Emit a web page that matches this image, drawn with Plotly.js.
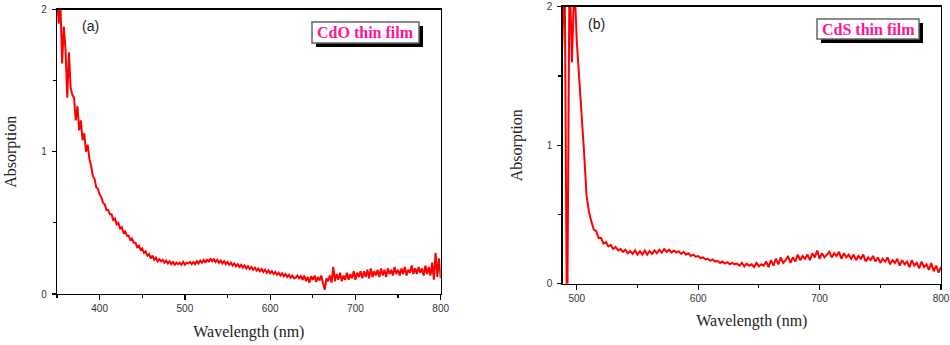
<!DOCTYPE html>
<html>
<head>
<meta charset="utf-8">
<script src="https://cdn.plot.ly/plotly-3.0.1.min.js"></script>
<style>
  html, body { margin: 0; padding: 0; background: #fff; }
  #chart { width: 950px; height: 345px; }
</style>
</head>
<body>
<div id="chart"></div>
<script>
// ---- Data ----
// Panel (a): CdO thin film, sampled every 2 nm from 350 to 800 nm
const wlStartA = 350;
const wlStepA = 2;
const absCdO = [
  2.10, 1.90, 2.05, 1.62, 1.88, 1.72, 1.38, 1.70, 1.45, 1.40,
  1.38, 1.22, 1.32, 1.15, 1.22, 1.08, 1.13, 1.00, 1.05, 0.95,
  0.90, 0.83, 0.81, 0.75, 0.74, 0.70, 0.68, 0.64, 0.63, 0.59,
  0.59, 0.56, 0.56, 0.52, 0.53, 0.49, 0.50, 0.46, 0.47, 0.43,
  0.44, 0.41, 0.41, 0.38, 0.39, 0.36, 0.36, 0.33, 0.34, 0.31,
  0.32, 0.29, 0.30, 0.27, 0.28, 0.25, 0.27, 0.24, 0.255, 0.23,
  0.245, 0.23, 0.24, 0.22, 0.235, 0.215, 0.23, 0.21, 0.225, 0.205,
  0.22, 0.21, 0.22, 0.205, 0.225, 0.205, 0.22, 0.215, 0.225, 0.21,
  0.225, 0.21, 0.23, 0.215, 0.235, 0.22, 0.24, 0.22, 0.245, 0.225,
  0.25, 0.23, 0.245, 0.225, 0.24, 0.22, 0.235, 0.215, 0.23, 0.21,
  0.225, 0.205, 0.22, 0.20, 0.215, 0.195, 0.21, 0.19, 0.205, 0.185,
  0.20, 0.18, 0.195, 0.175, 0.19, 0.17, 0.185, 0.165, 0.18, 0.16,
  0.175, 0.155, 0.17, 0.15, 0.165, 0.145, 0.16, 0.14, 0.155, 0.135,
  0.15, 0.13, 0.145, 0.125, 0.14, 0.12, 0.135, 0.115, 0.13, 0.11,
  0.115, 0.13, 0.11, 0.125, 0.10, 0.13, 0.09, 0.12, 0.08, 0.125,
  0.10, 0.13, 0.085, 0.12, 0.095, 0.13, 0.075, 0.03, 0.11, 0.09,
  0.13, 0.08, 0.19, 0.09, 0.14, 0.10, 0.15, 0.09, 0.13, 0.10,
  0.15, 0.10, 0.14, 0.11, 0.16, 0.10, 0.15, 0.12, 0.16, 0.11,
  0.16, 0.12, 0.17, 0.11, 0.18, 0.12, 0.16, 0.13, 0.17, 0.12,
  0.18, 0.13, 0.17, 0.12, 0.18, 0.14, 0.17, 0.13, 0.19, 0.14,
  0.17, 0.13, 0.18, 0.14, 0.19, 0.13, 0.17, 0.15, 0.20, 0.14,
  0.18, 0.14, 0.19, 0.15, 0.18, 0.13, 0.20, 0.14, 0.19, 0.13,
  0.22, 0.10, 0.29, 0.12, 0.25, 0.11
];

// Panel (b): CdS thin film, sampled every 2 nm from 488 to 800 nm
const wlStartB = 488;
const wlStepB = 2;
const absCdS = [
  1.70, 2.30, -0.50, 2.30, 1.60, 2.20, 1.75, 1.50, 1.20, 0.95,
  0.64, 0.52, 0.45, 0.39, 0.38, 0.33, 0.33, 0.29, 0.30, 0.27,
  0.28, 0.25, 0.265, 0.24, 0.25, 0.23, 0.245, 0.22, 0.235, 0.215,
  0.24, 0.21, 0.235, 0.21, 0.24, 0.21, 0.235, 0.215, 0.24, 0.22,
  0.245, 0.225, 0.25, 0.23, 0.245, 0.225, 0.24, 0.225, 0.235, 0.215,
  0.23, 0.21, 0.22, 0.20, 0.21, 0.195, 0.20, 0.185, 0.19, 0.175,
  0.18, 0.165, 0.175, 0.16, 0.165, 0.15, 0.16, 0.145, 0.155, 0.14,
  0.15, 0.14, 0.145, 0.13, 0.15, 0.125, 0.145, 0.13, 0.14, 0.12,
  0.15, 0.125, 0.14, 0.13, 0.16, 0.12, 0.17, 0.13, 0.18, 0.14,
  0.19, 0.15, 0.17, 0.20, 0.15, 0.19, 0.16, 0.21, 0.17, 0.20,
  0.18, 0.21, 0.17, 0.22, 0.19, 0.24, 0.18, 0.22, 0.19, 0.21,
  0.23, 0.19, 0.22, 0.20, 0.23, 0.18, 0.22, 0.19, 0.21, 0.18,
  0.21, 0.17, 0.20, 0.18, 0.21, 0.16, 0.19, 0.17, 0.20, 0.16,
  0.19, 0.15, 0.18, 0.16, 0.19, 0.14, 0.17, 0.15, 0.18, 0.13,
  0.17, 0.14, 0.16, 0.12, 0.17, 0.13, 0.15, 0.11, 0.16, 0.12,
  0.14, 0.10, 0.15, 0.09, 0.13, 0.08, 0.12
];

const panelLabels = ['(a)', '(b)'];
const filmLabels = ['CdO thin film', 'CdS thin film'];
const xTitle = 'Wavelength (nm)';
const yTitle = 'Absorption';

// wavelength grids (sampling positions of the spectra)
const wlA = absCdO.map((_, i) => wlStartA + wlStepA * i);
const wlB = absCdS.map((_, i) => wlStartB + wlStepB * i);

// ---- Plot ----
const W = 950, H = 345;
const px = v => v / W;        // pixel -> paper x
const py = v => 1 - v / H;    // pixel -> paper y (from top)

const tickFont = { family: 'Liberation Sans, Arial, sans-serif', size: 10, color: '#333' };
const titleFont = { family: 'Liberation Serif, Times New Roman, serif', size: 16, color: '#222' };

function xAxis(domain, range, standoff) {
  return {
    domain: domain, range: range, dtick: 100, tick0: 0,
    ticks: 'outside', ticklen: 5, tickwidth: 1.2, tickcolor: '#000',
    minor: { dtick: 50, ticks: 'outside', ticklen: 3, tickwidth: 1.2, tickcolor: '#000' },
    showline: true, mirror: true, linecolor: '#000', linewidth: 1.3,
    showgrid: false, zeroline: false, tickfont: tickFont,
    title: { text: xTitle, font: titleFont, standoff: standoff },
    fixedrange: true
  };
}
function yAxis(domain, anchor, standoff) {
  return {
    domain: domain, range: [0, 2], dtick: 1, tick0: 0, anchor: anchor,
    ticks: 'outside', ticklen: 4, tickwidth: 1.2, tickcolor: '#000',
    minor: { dtick: 0.5, ticks: 'outside', ticklen: 3, tickwidth: 1.2, tickcolor: '#000' },
    showline: true, mirror: true, linecolor: '#000', linewidth: 1.3,
    showgrid: false, zeroline: false, tickfont: tickFont, ticklabelstandoff: 3,
    title: { text: yTitle, font: titleFont, standoff: standoff },
    fixedrange: true
  };
}

const traces = [
  { x: wlA, y: absCdO, type: 'scatter', mode: 'lines', xaxis: 'x', yaxis: 'y',
    line: { color: '#ff0000', width: 2 }, showlegend: false, name: filmLabels[0] },
  { x: wlB, y: absCdS, type: 'scatter', mode: 'lines', xaxis: 'x2', yaxis: 'y2',
    line: { color: '#ff0000', width: 2 }, showlegend: false, name: filmLabels[1] }
];

const boxA = { x0: 312, x1: 419, y0: 22, y1: 43 };
const boxB = { x0: 817, x1: 919, y0: 19, y1: 39 };
const shadow = 4;
function boxShapes(b) {
  return [
    { type: 'rect', xref: 'paper', yref: 'paper', layer: 'above',
      x0: px(b.x0 + shadow), x1: px(b.x1 + shadow), y0: py(b.y0 + shadow), y1: py(b.y1 + shadow),
      fillcolor: '#000', line: { width: 0 } },
    { type: 'rect', xref: 'paper', yref: 'paper', layer: 'above',
      x0: px(b.x0), x1: px(b.x1), y0: py(b.y0), y1: py(b.y1),
      fillcolor: '#fff', line: { color: '#666', width: 1.5 } }
  ];
}

const filmFont = { family: 'Liberation Serif, Times New Roman, serif', size: 16, color: '#ff1493' };
const panelFont = { family: 'Liberation Sans, Arial, sans-serif', size: 14, color: '#222' };

const layout = {
  width: W, height: H,
  margin: { l: 0, r: 0, t: 0, b: 0 },
  paper_bgcolor: '#fff', plot_bgcolor: '#fff',
  showlegend: false,
  xaxis: xAxis([px(57), px(440.7)], [350, 800], 12),
  yaxis: yAxis([1 - 294 / H, 1 - 9.5 / H], 'x', 20),
  xaxis2: Object.assign(xAxis([px(562.7), px(941)], [488.4, 800], 11), { anchor: 'y2' }),
  yaxis2: yAxis([1 - 283.7 / H, 1 - 6.7 / H], 'x2', 20),
  shapes: boxShapes(boxA).concat(boxShapes(boxB)),
  annotations: [
    { text: panelLabels[0], xref: 'paper', yref: 'paper', x: px(90), y: py(26.5),
      showarrow: false, font: panelFont, xanchor: 'center', yanchor: 'middle' },
    { text: panelLabels[1], xref: 'paper', yref: 'paper', x: px(596.7), y: py(23.7),
      showarrow: false, font: panelFont, xanchor: 'center', yanchor: 'middle' },
    { text: '<b>' + filmLabels[0] + '</b>', xref: 'paper', yref: 'paper',
      x: px((boxA.x0 + boxA.x1) / 2), y: py((boxA.y0 + boxA.y1) / 2),
      showarrow: false, font: filmFont, xanchor: 'center', yanchor: 'middle' },
    { text: '<b>' + filmLabels[1] + '</b>', xref: 'paper', yref: 'paper',
      x: px((boxB.x0 + boxB.x1) / 2), y: py((boxB.y0 + boxB.y1) / 2),
      showarrow: false, font: filmFont, xanchor: 'center', yanchor: 'middle' }
  ]
};

Plotly.newPlot('chart', traces, layout, { staticPlot: true, displayModeBar: false });
</script>
</body>
</html>
